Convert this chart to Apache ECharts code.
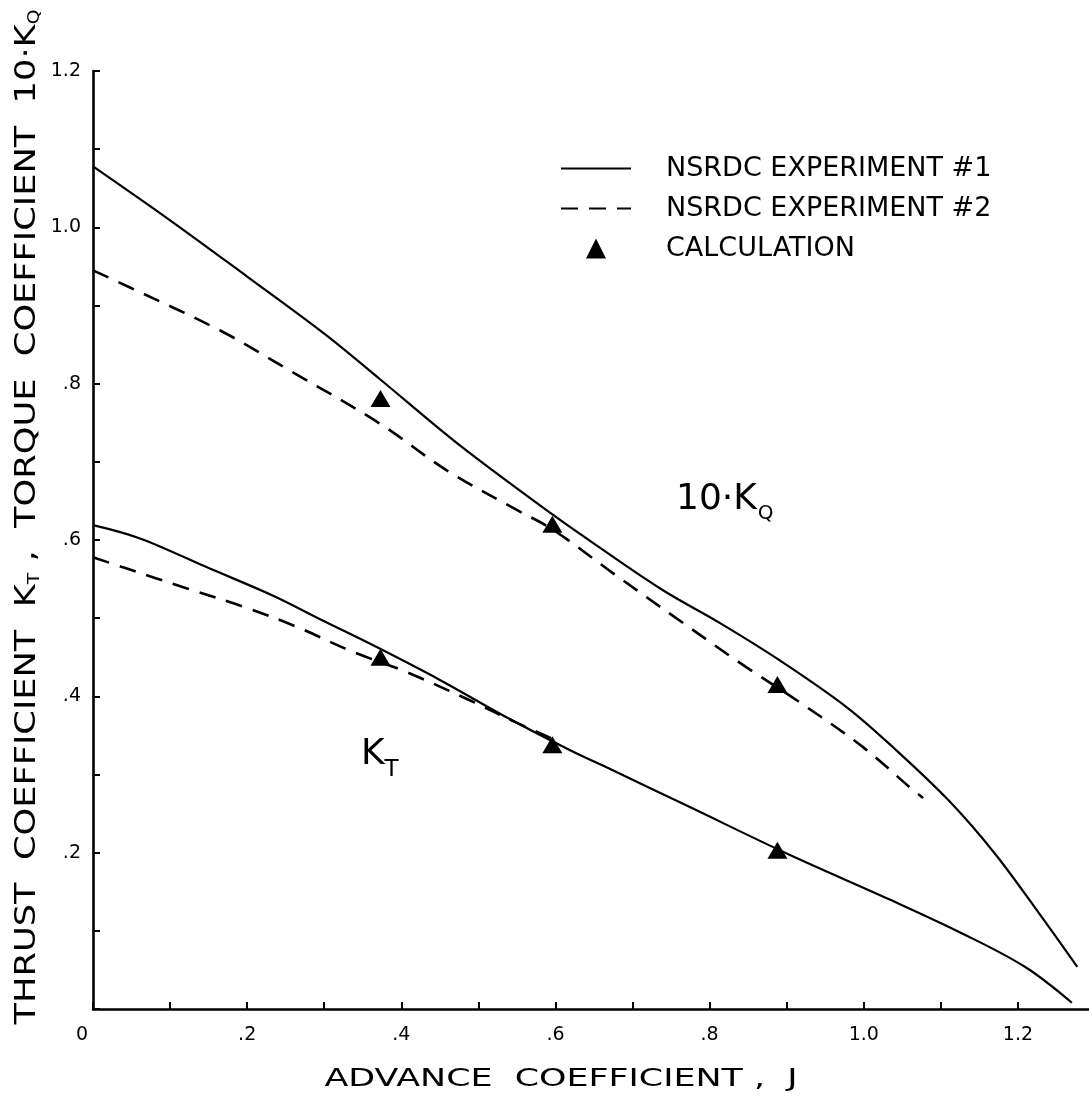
<!DOCTYPE html>
<html>
<head>
<meta charset="utf-8">
<title>Propeller open-water characteristics</title>
<script src="https://cdn.jsdelivr.net/npm/echarts@6/dist/echarts.min.js"></script>
<style>
  html, body { margin: 0; padding: 0; background: #ffffff; }
  #chart { width: 1089px; height: 1100px; }
</style>
</head>
<body>
<div id="chart"></div>
<script>
// ---- Data: advance coefficient J against 10·KQ and KT ----
// NSRDC experiment #1 (solid), torque coefficient 10·KQ
const kq1J = [0, 0.1, 0.2, 0.3, 0.372, 0.476, 0.597, 0.649, 0.739, 0.813, 0.891, 0.978, 1.04, 1.11, 1.17, 1.227, 1.277];
const kq1V = [1.078, 1.009, 0.937, 0.864, 0.806, 0.721, 0.632, 0.596, 0.536, 0.494, 0.446, 0.386, 0.333, 0.267, 0.199, 0.123, 0.054];
// NSRDC experiment #2 (dashed), torque coefficient 10·KQ
const kq2J = [0, 0.048, 0.165, 0.255, 0.372, 0.459, 0.545, 0.597, 0.674, 0.761, 0.848, 0.913, 0.999, 1.064, 1.077];
const kq2V = [0.945, 0.923, 0.868, 0.817, 0.749, 0.689, 0.641, 0.613, 0.558, 0.497, 0.437, 0.395, 0.335, 0.280, 0.270];
// NSRDC experiment #1 (solid), thrust coefficient KT
const kt1J = [0, 0.061, 0.148, 0.233, 0.298, 0.368, 0.45, 0.537, 0.619, 0.673, 0.773, 0.9, 1.036, 1.127, 1.209, 1.27];
const kt1V = [0.619, 0.602, 0.565, 0.529, 0.497, 0.463, 0.421, 0.373, 0.331, 0.306, 0.259, 0.199, 0.139, 0.097, 0.054, 0.008];
// NSRDC experiment #2 (dashed), thrust coefficient KT
const kt2J = [0, 0.039, 0.122, 0.2, 0.264, 0.337, 0.407, 0.493, 0.55, 0.6];
const kt2V = [0.578, 0.565, 0.538, 0.513, 0.489, 0.457, 0.431, 0.393, 0.366, 0.344];
// Calculated points
const calcJ = [0.373, 0.596, 0.888];
const calcKq = [0.781, 0.620, 0.415];
const calcKt = [0.450, 0.338, 0.203];

// Tick labels
const xTickValues = [0, 0.2, 0.4, 0.6, 0.8, 1.0, 1.2];
const xTickText = ['0', '.2', '.4', '.6', '.8', '1.0', '1.2'];
const yTickValues = [0.2, 0.4, 0.6, 0.8, 1.0, 1.2];
const yTickText = ['.2', '.4', '.6', '.8', '1.0', '1.2'];

const NAME_EXP1 = 'NSRDC EXPERIMENT #1';
const NAME_EXP2 = 'NSRDC EXPERIMENT #2';
const NAME_CALC = 'CALCULATION';

const FONT = '"DejaVu Sans", "Liberation Sans", sans-serif';
const INK = '#000000';

const pairs = (xs, ys) => xs.map((x, i) => [x, ys[i]]);
const lookup = (vals, texts, v) => {
  const i = vals.findIndex(t => Math.abs(t - v) < 1e-6);
  return i < 0 ? '' : texts[i];
};

// width of a run of text pieces, used to stretch the lettering along its baseline
const measureCtx = document.createElement('canvas').getContext('2d');
function runWidth(parts) {
  return parts.reduce((w, p) => {
    measureCtx.font = p[1] + 'px ' + FONT;
    return w + measureCtx.measureText(p[0]).width;
  }, 0);
}

const chart = echarts.init(document.getElementById('chart'), null, { renderer: 'canvas' });

const solidLine = { color: INK, width: 2.2, type: 'solid' };
const dashedLine = { color: INK, width: 2.6, type: [17, 11] };

function curve(name, xs, ys, lineStyle) {
  return {
    type: 'line', name, data: pairs(xs, ys),
    symbol: 'none', smooth: 0.35,
    lineStyle, itemStyle: { color: INK }, z: 2,
    emphasis: { disabled: true }, silent: true
  };
}
function calcSeries(ys) {
  return {
    type: 'line', name: NAME_CALC, data: pairs(calcJ, ys),
    symbol: 'triangle', symbolSize: [20, 17], showSymbol: true,
    lineStyle: { opacity: 0, color: INK }, itemStyle: { color: INK, borderWidth: 0 },
    z: 3, emphasis: { disabled: true }, silent: true
  };
}

// ---- Axis titles and curve labels (stretched hand lettering) ----
const yTitleMain = 28, yTitleSub = 15;
const yTitleParts = [
  ['THRUST  COEFFICIENT  K', yTitleMain], ['T', yTitleSub],
  [' ,  TORQUE  COEFFICIENT  10·K', yTitleMain], ['Q', yTitleSub]
];
const yTitleScale = 1015 / runWidth(yTitleParts);

const xTitleSize = 25;
const xTitleText = 'ADVANCE  COEFFICIENT ,  J';
const xTitleScale = 473 / runWidth([[xTitleText, xTitleSize]]);

const graphics = [
  {
    type: 'text', x: 28, y: 517, rotation: Math.PI / 2, scaleX: yTitleScale, scaleY: 1,
    style: {
      text: '{m|THRUST  COEFFICIENT  K}{s|T}{m| ,  TORQUE  COEFFICIENT  10·K}{s|Q}',
      fill: INK, align: 'center', verticalAlign: 'middle',
      textAlign: 'center', textVerticalAlign: 'middle',
      rich: {
        m: { fontSize: yTitleMain, fontFamily: FONT, fill: INK },
        s: { fontSize: yTitleSub, fontFamily: FONT, fill: INK, padding: [14, 0, 0, 0] }
      }
    }
  },
  {
    type: 'text', x: 561, y: 1079, scaleX: xTitleScale, scaleY: 1,
    style: {
      text: xTitleText, fill: INK, fontSize: xTitleSize, fontFamily: FONT,
      align: 'center', verticalAlign: 'middle', textAlign: 'center', textVerticalAlign: 'middle'
    }
  },
  {
    type: 'text', x: 676, y: 500,
    style: {
      text: '{b|10·K}{s|Q}', fill: INK,
      align: 'left', verticalAlign: 'middle', textAlign: 'left', textVerticalAlign: 'middle',
      rich: {
        b: { fontSize: 36, fontFamily: FONT, fill: INK },
        s: { fontSize: 20, fontFamily: FONT, fill: INK, padding: [28, 0, 0, 1] }
      }
    }
  },
  {
    type: 'text', x: 361, y: 755,
    style: {
      text: '{b|K}{s|T}', fill: INK,
      align: 'left', verticalAlign: 'middle', textAlign: 'left', textVerticalAlign: 'middle',
      rich: {
        b: { fontSize: 36, fontFamily: FONT, fill: INK },
        s: { fontSize: 23, fontFamily: FONT, fill: INK, padding: [30, 0, 0, 0] }
      }
    }
  }
];

const option = {
  backgroundColor: '#ffffff',
  animation: false,
  textStyle: { fontFamily: FONT, color: INK },
  grid: { left: 93, top: 71, width: 1002, height: 938, containLabel: false, outerBoundsMode: 'none' },
  legend: {
    orient: 'vertical', left: 560, top: 155, padding: 0,
    itemWidth: 70, itemHeight: 25, itemGap: 13,
    selectedMode: false,
    data: [
      { name: NAME_EXP1, itemStyle: { opacity: 0 } },
      { name: NAME_EXP2, itemStyle: { opacity: 0 } },
      { name: NAME_CALC, lineStyle: { opacity: 0 } }
    ],
    textStyle: { fontFamily: FONT, fontSize: 27, color: INK, lineHeight: 26, padding: [0, 0, 0, 30] }
  },
  xAxis: {
    type: 'value', min: 0, max: 1.3, interval: 0.1,
    axisLine: { show: true, onZero: false, lineStyle: { color: INK, width: 2.6 } },
    axisTick: { show: true, inside: true, length: 7, lineStyle: { color: INK, width: 2 } },
    splitLine: { show: false },
    axisLabel: {
      show: true, margin: 17, color: INK, fontFamily: FONT, fontSize: 19,
      showMinLabel: true, showMaxLabel: true, hideOverlap: false,
      formatter: v => {
        const t = lookup(xTickValues, xTickText, v);
        return v === 0 ? '{o|' + t + '}' : t;
      },
      rich: { o: { fontSize: 19, fontFamily: FONT, color: INK, padding: [0, 22, 14, 0] } }
    }
  },
  yAxis: {
    type: 'value', min: 0, max: 1.2, interval: 0.1,
    axisLine: { show: true, onZero: false, lineStyle: { color: INK, width: 2.6 } },
    axisTick: { show: true, inside: true, length: 7, lineStyle: { color: INK, width: 2 } },
    splitLine: { show: false },
    axisLabel: {
      show: true, margin: 12, color: INK, fontFamily: FONT, fontSize: 19,
      showMinLabel: true, showMaxLabel: true, hideOverlap: false,
      formatter: v => lookup(yTickValues, yTickText, v)
    }
  },
  series: [
    curve(NAME_EXP1, kq1J, kq1V, solidLine),
    curve(NAME_EXP2, kq2J, kq2V, dashedLine),
    curve(NAME_EXP1, kt1J, kt1V, solidLine),
    curve(NAME_EXP2, kt2J, kt2V, dashedLine),
    calcSeries(calcKq),
    calcSeries(calcKt)
  ],
  graphic: graphics
};

chart.setOption(option);
</script>
</body>
</html>
